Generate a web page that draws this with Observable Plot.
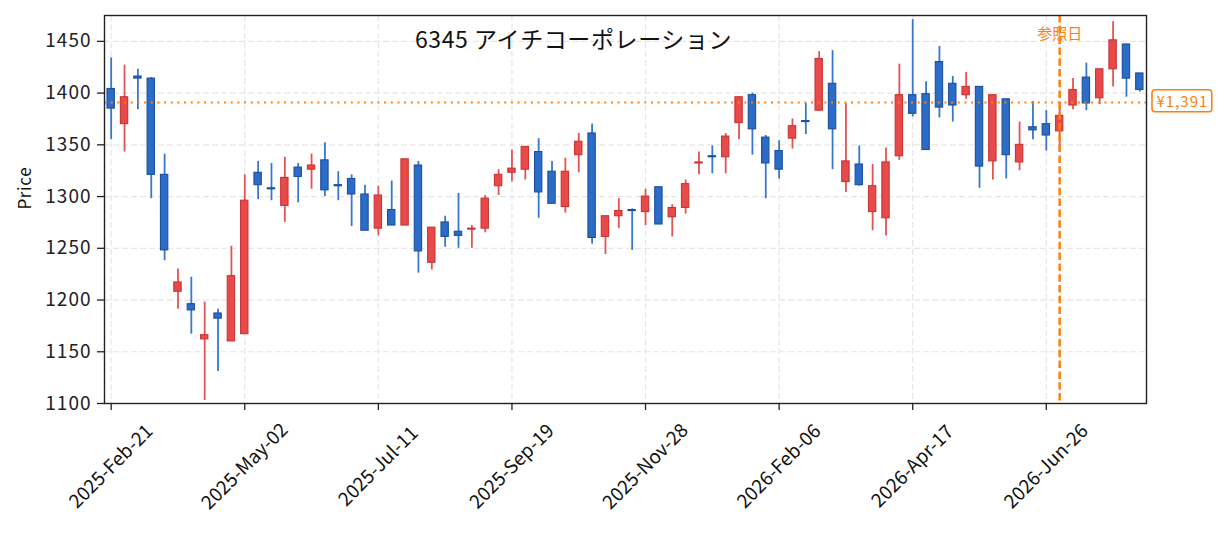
<!DOCTYPE html>
<html>
<head>
<meta charset="utf-8">
<script src="https://cdn.jsdelivr.net/npm/d3@7"></script>
<script src="https://cdn.jsdelivr.net/npm/@observablehq/plot@0.6"></script>
<style>
  html, body { margin: 0; padding: 0; background: #fff; }
  #chart { width: 1225px; height: 533px; }
  .ytl text { letter-spacing: 1px; }
  .pricelabel text { letter-spacing: 1px; }
  .ylab text { letter-spacing: 0.6px; }
  .ttl text { letter-spacing: 0.6px; }
</style>
</head>
<body>
<div id="chart"></div>
<script>
// ---- data ----
const title = "6345 アイチコーポレーション";
const dates = [
  "2025-02-21","2025-02-28","2025-03-07","2025-03-14","2025-03-21","2025-03-28","2025-04-04","2025-04-11","2025-04-18","2025-04-25",
  "2025-05-02","2025-05-09","2025-05-16","2025-05-23","2025-05-30","2025-06-06","2025-06-13","2025-06-20","2025-06-27","2025-07-04",
  "2025-07-11","2025-07-18","2025-07-25","2025-08-01","2025-08-08","2025-08-15","2025-08-22","2025-08-29","2025-09-05","2025-09-12",
  "2025-09-19","2025-09-26","2025-10-03","2025-10-10","2025-10-17","2025-10-24","2025-10-31","2025-11-07","2025-11-14","2025-11-21",
  "2025-11-28","2025-12-05","2025-12-12","2025-12-19","2025-12-26","2026-01-02","2026-01-09","2026-01-16","2026-01-23","2026-01-30",
  "2026-02-06","2026-02-13","2026-02-20","2026-02-27","2026-03-06","2026-03-13","2026-03-20","2026-03-27","2026-04-03","2026-04-10",
  "2026-04-17","2026-04-24","2026-05-01","2026-05-08","2026-05-15","2026-05-22","2026-05-29","2026-06-05","2026-06-12","2026-06-19",
  "2026-06-26","2026-07-03","2026-07-10","2026-07-17","2026-07-24","2026-07-31","2026-08-07","2026-08-14"
];
const open = [
  1404,1370,1416,1414,1321,1208,1196,1162,1187,1160,
  1167,1323,1308,1291,1328,1326,1335,1311,1317,1302,
  1269,1287,1272,1330,1236,1275,1266,1268,1269,1310,
  1323,1326,1343,1324,1290,1340,1361,1261,1281,1287,
  1285,1309,1280,1289,1332,1339,1338,1371,1398,1357,
  1344,1356,1373,1383,1409,1314,1331,1285,1279,1339,
  1398,1399,1430,1409,1398,1406,1334,1394,1333,1367,
  1370,1363,1388,1415,1395,1423,1447,1419
];
const high = [
  1434,1427,1423,1415,1341,1230,1222,1198,1191,1252,
  1321,1334,1332,1338,1332,1341,1352,1324,1321,1311,
  1310,1315,1336,1334,1270,1281,1303,1272,1301,1326,
  1345,1348,1356,1334,1337,1361,1370,1281,1298,1288,
  1307,1309,1292,1316,1343,1349,1361,1396,1400,1359,
  1354,1375,1390,1440,1441,1390,1349,1331,1347,1428,
  1471,1411,1445,1416,1420,1406,1398,1394,1372,1392,
  1383,1387,1414,1429,1423,1469,1447,1419
];
const low = [
  1355,1343,1384,1298,1238,1191,1167,1103,1131,1160,
  1167,1297,1296,1275,1294,1307,1300,1296,1271,1267,
  1262,1272,1272,1226,1229,1251,1250,1250,1265,1301,
  1314,1316,1279,1293,1284,1323,1254,1244,1269,1248,
  1272,1273,1261,1283,1321,1322,1322,1355,1340,1298,
  1317,1346,1360,1383,1326,1304,1310,1267,1262,1335,
  1377,1345,1376,1372,1394,1308,1316,1317,1325,1355,
  1344,1343,1384,1383,1389,1406,1396,1401
];
const close = [
  1385,1396,1414,1321,1248,1217,1190,1166,1182,1223,
  1296,1311,1307,1318,1319,1330,1306,1310,1302,1267,
  1301,1272,1336,1247,1270,1261,1262,1269,1298,1321,
  1327,1348,1304,1293,1324,1353,1260,1281,1286,1286,
  1300,1273,1289,1312,1333,1338,1358,1396,1365,1332,
  1326,1368,1372,1433,1365,1334,1311,1310,1333,1398,
  1380,1345,1386,1388,1406,1329,1398,1340,1350,1364,
  1359,1378,1403,1390,1423,1451,1414,1403
];
const tickDates = ["2025-02-21","2025-05-02","2025-07-11","2025-09-19","2025-11-28","2026-02-06","2026-04-17","2026-06-26"];
const yTicks = [1100,1150,1200,1250,1300,1350,1400,1450];
const refDate = "2026-07-03";
const refDateLabel = "参照日";
const refPrice = 1391;
const yLabel = "Price";

// ---- table ----
const candles = dates.map((d, i) => ({date: d, o: open[i], h: high[i], l: low[i], c: close[i]}));
const up = candles.filter(d => d.c >= d.o);
const down = candles.filter(d => d.c < d.o);

const ORANGE = "#ff7f0e";
const RED_FILL = "#e84a4a", RED_LINE = "#c93434", RED_WICK = "#e45252";
const BLUE_FILL = "#2b6dc6", BLUE_LINE = "#1c4fa0", BLUE_WICK = "#3678cc";
const fmtDate = d3.utcFormat("%Y-%b-%d");
const FONT = "'Noto Sans CJK JP', 'Noto Sans', sans-serif";

const chart = Plot.plot({
  width: 1225,
  height: 533,
  marginLeft: 104,
  marginRight: 79,
  marginTop: 15,
  marginBottom: 130,
  style: {fontFamily: FONT, color: "#222", background: "#fff", overflow: "visible"},
  x: {type: "band", domain: dates, paddingInner: 0.45, paddingOuter: 0.225, align: 0.5, round: false, axis: null},
  y: {domain: [1100, 1475], axis: null},
  marks: [
    Plot.gridY(yTicks, {stroke: "#e6e6e6", strokeOpacity: 1, strokeWidth: 1.2, strokeDasharray: "6,3"}),
    Plot.gridX(tickDates, {stroke: "#e6e6e6", strokeOpacity: 1, strokeWidth: 1.2, strokeDasharray: "6,3"}),
    Plot.ruleX(up, {x: "date", y1: "l", y2: "h", stroke: RED_WICK, strokeWidth: 1.8}),
    Plot.ruleX(down, {x: "date", y1: "l", y2: "h", stroke: BLUE_WICK, strokeWidth: 1.8}),
    Plot.barY(up, {x: "date", y1: "o", y2: "c", fill: RED_FILL, stroke: RED_LINE, strokeWidth: 1.1}),
    Plot.barY(down, {x: "date", y1: "o", y2: "c", fill: BLUE_FILL, stroke: BLUE_LINE, strokeWidth: 1.1}),
    Plot.ruleY([refPrice], {y: d => d, stroke: ORANGE, strokeWidth: 2, strokeDasharray: "2,4.67"}),
    Plot.ruleX([refDate], {x: d => d, stroke: ORANGE, strokeWidth: 2.5, strokeDasharray: "7.5,3.3"}),
    Plot.text([refDate], {x: d => d, text: () => refDateLabel, frameAnchor: "top", dy: 19, fill: ORANGE, fontSize: 15, lineAnchor: "middle"}),
    Plot.text([refPrice], {y: d => d, text: d => "¥" + d3.format(",")(d), frameAnchor: "right", textAnchor: "start", dx: 10, fill: ORANGE, fontSize: 15, lineAnchor: "middle", className: "pricelabel"}),
    Plot.text([title], {text: d => d, frameAnchor: "top", dx: -52, dy: 25, fontSize: 23, fill: "#111", lineAnchor: "middle", className: "ttl"}),
    Plot.frame({stroke: "#222", strokeWidth: 1.4}),
    Plot.axisY({ticks: yTicks, tickFormat: d => String(d), tickSize: 7, tickPadding: 6, fontSize: 19, label: null, stroke: "#222", strokeWidth: 1.3, className: "ytl"}),
    Plot.axisX({ticks: tickDates, tickSize: 7, tickFormat: () => "", label: null, stroke: "#222", strokeWidth: 1.3}),
    Plot.text(tickDates, {x: d => d, text: d => fmtDate(new Date(d)), frameAnchor: "bottom", dy: 63, rotate: -45, textAnchor: "middle", lineAnchor: "middle", fontSize: 19, fill: "#111"}),
    Plot.text([yLabel], {text: d => d, frameAnchor: "left", dx: -79, rotate: -90, fontSize: 17, fill: "#111", lineAnchor: "middle", className: "ylab"})
  ]
});

document.getElementById("chart").appendChild(chart);

// rounded box behind the price label
const lbl = chart.querySelector("g.pricelabel text");
if (lbl) {
  const bb = lbl.getBBox();
  const padX = 4.5, padY = 0.5;
  const rect = document.createElementNS("http://www.w3.org/2000/svg", "rect");
  const tr = lbl.getAttribute("transform");
  if (tr) rect.setAttribute("transform", tr);
  rect.setAttribute("x", bb.x - padX);
  rect.setAttribute("y", bb.y - padY);
  rect.setAttribute("width", bb.width + 2 * padX - 1);
  rect.setAttribute("height", bb.height + 2 * padY);
  rect.setAttribute("rx", 3);
  rect.setAttribute("fill", "#fff");
  rect.setAttribute("stroke", ORANGE);
  rect.setAttribute("stroke-width", 1.6);
  lbl.parentNode.insertBefore(rect, lbl);
}
</script>
</body>
</html>
